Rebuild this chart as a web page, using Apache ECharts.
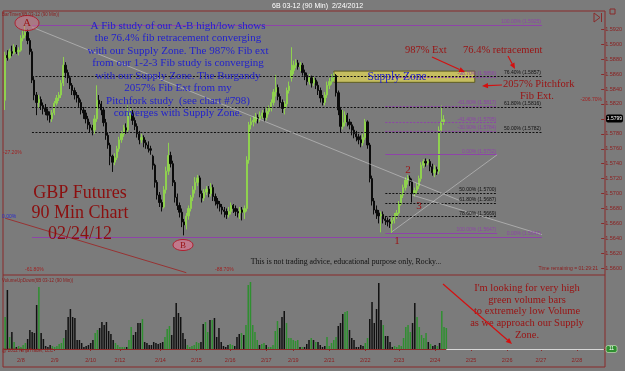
<!DOCTYPE html>
<html lang="en">

<head>
    <meta charset="UTF-8">
    <title>GBP Futures 90 Min</title>
    <style>
        html,
        body {
            margin: 0;
            padding: 0;
            background: #7b7b7b;
        }

        .box {
            width: 625px;
            height: 371px;
        }
    </style>
</head>

<body>
    <div class="box"></div>

    <script src="https://cdn.jsdelivr.net/npm/echarts@6.0.0/dist/echarts.min.js"></script>
    <script>
        // 90 min bars, 6B 03-12
        let opens = [1.5825, 1.5885, 1.5882, 1.5890, 1.5888, 1.5896, 1.5890, 1.5892, 1.5908, 1.5912,
            1.5916, 1.5905, 1.5890, 1.5852, 1.5832, 1.5822, 1.5826, 1.5818, 1.5814, 1.5810,
            1.5805, 1.5800, 1.5808, 1.5821, 1.5828, 1.5832, 1.5848, 1.5872, 1.5862, 1.5855,
            1.5845, 1.5838, 1.5832, 1.5828, 1.5822, 1.5812, 1.5808, 1.5800, 1.5792, 1.5788,
            1.5785, 1.5800, 1.5825, 1.5820, 1.5812, 1.5795, 1.5778, 1.5765, 1.5750, 1.5742,
            1.5748, 1.5760, 1.5772, 1.5780, 1.5788, 1.5785, 1.5805, 1.5808, 1.5798, 1.5790,
            1.5780, 1.5772, 1.5775, 1.5768, 1.5765, 1.5760, 1.5750, 1.5738, 1.5715, 1.5698,
            1.5688, 1.5682, 1.5705, 1.5730, 1.5751, 1.5740, 1.5715, 1.5695, 1.5684, 1.5675,
            1.5662, 1.5658, 1.5670, 1.5680, 1.5695, 1.5705, 1.5715, 1.5721, 1.5700, 1.5694,
            1.5702, 1.5706, 1.5700, 1.5708, 1.5696, 1.5690, 1.5686, 1.5682, 1.5678, 1.5676,
            1.5672, 1.5676, 1.5684, 1.5680, 1.5676, 1.5674, 1.5678, 1.5675, 1.5680, 1.5745,
            1.5792, 1.5796, 1.5798, 1.5802, 1.5800, 1.5804, 1.5808, 1.5802, 1.5810, 1.5814,
            1.5822, 1.5836, 1.5842, 1.5830, 1.5822, 1.5814, 1.5820, 1.5838, 1.5855, 1.5865,
            1.5872, 1.5875, 1.5870, 1.5872, 1.5862, 1.5858, 1.5850, 1.5855, 1.5848, 1.5852,
            1.5845, 1.5838, 1.5828, 1.5822, 1.5832, 1.5845, 1.5850, 1.5855, 1.5858, 1.5835,
            1.5812, 1.5790, 1.5795, 1.5805, 1.5796, 1.5792, 1.5785, 1.5780, 1.5776, 1.5772,
            1.5768, 1.5775, 1.5796, 1.5765, 1.5720, 1.5690, 1.5678, 1.5674, 1.5670, 1.5672,
            1.5666, 1.5664, 1.5662, 1.5660, 1.5664, 1.5670, 1.5674, 1.5686, 1.5698, 1.5708,
            1.5718, 1.5721, 1.5716, 1.5700, 1.5704, 1.5710, 1.5720, 1.5738, 1.5743, 1.5741,
            1.5743, 1.5736, 1.5728, 1.5732, 1.5730, 1.5785, 1.5796]
        let closes = [1.5885, 1.5882, 1.5890, 1.5888, 1.5896, 1.5890, 1.5892, 1.5908, 1.5912, 1.5916,
            1.5905, 1.5890, 1.5852, 1.5832, 1.5822, 1.5826, 1.5818, 1.5814, 1.5810, 1.5805,
            1.5800, 1.5808, 1.5821, 1.5828, 1.5832, 1.5848, 1.5872, 1.5862, 1.5855, 1.5845,
            1.5838, 1.5832, 1.5828, 1.5822, 1.5812, 1.5808, 1.5800, 1.5792, 1.5788, 1.5785,
            1.5800, 1.5825, 1.5820, 1.5812, 1.5795, 1.5778, 1.5765, 1.5750, 1.5742, 1.5748,
            1.5760, 1.5772, 1.5780, 1.5788, 1.5785, 1.5805, 1.5808, 1.5798, 1.5790, 1.5780,
            1.5772, 1.5775, 1.5768, 1.5765, 1.5760, 1.5758, 1.5738, 1.5715, 1.5698, 1.5688,
            1.5682, 1.5705, 1.5730, 1.5751, 1.5740, 1.5715, 1.5695, 1.5684, 1.5675, 1.5662,
            1.5658, 1.5670, 1.5680, 1.5695, 1.5705, 1.5715, 1.5721, 1.5700, 1.5694, 1.5702,
            1.5706, 1.5700, 1.5708, 1.5696, 1.5690, 1.5686, 1.5682, 1.5678, 1.5676, 1.5672,
            1.5676, 1.5684, 1.5680, 1.5676, 1.5674, 1.5678, 1.5675, 1.5680, 1.5745, 1.5792,
            1.5796, 1.5798, 1.5802, 1.5800, 1.5804, 1.5808, 1.5802, 1.5810, 1.5814, 1.5822,
            1.5836, 1.5842, 1.5830, 1.5822, 1.5814, 1.5820, 1.5838, 1.5844, 1.5865, 1.5872,
            1.5875, 1.5870, 1.5872, 1.5862, 1.5858, 1.5850, 1.5855, 1.5848, 1.5852, 1.5845,
            1.5838, 1.5828, 1.5822, 1.5832, 1.5845, 1.5850, 1.5855, 1.5858, 1.5835, 1.5812,
            1.5790, 1.5795, 1.5805, 1.5796, 1.5792, 1.5785, 1.5780, 1.5776, 1.5772, 1.5768,
            1.5775, 1.5796, 1.5765, 1.5720, 1.5690, 1.5678, 1.5674, 1.5670, 1.5672, 1.5666,
            1.5664, 1.5662, 1.5660, 1.5664, 1.5670, 1.5674, 1.5686, 1.5698, 1.5708, 1.5718,
            1.5721, 1.5716, 1.5700, 1.5704, 1.5710, 1.5720, 1.5738, 1.5743, 1.5741, 1.5743,
            1.5736, 1.5728, 1.5732, 1.5730, 1.5785, 1.5796, 1.5799]
        let lows = [1.5812, 1.5878, 1.5880, 1.5884, 1.5886, 1.5887, 1.5885, 1.5890, 1.5904, 1.5908,
            1.5900, 1.5886, 1.5848, 1.5825, 1.5805, 1.5815, 1.5812, 1.5806, 1.5805, 1.5798,
            1.5795, 1.5796, 1.5805, 1.5818, 1.5824, 1.5828, 1.5844, 1.5855, 1.5848, 1.5840,
            1.5832, 1.5826, 1.5822, 1.5816, 1.5806, 1.5800, 1.5794, 1.5786, 1.5782, 1.5778,
            1.5780, 1.5796, 1.5814, 1.5805, 1.5790, 1.5772, 1.5760, 1.5738, 1.5729, 1.5738,
            1.5745, 1.5756, 1.5768, 1.5776, 1.5780, 1.5782, 1.5800, 1.5792, 1.5785, 1.5775,
            1.5766, 1.5768, 1.5762, 1.5760, 1.5755, 1.5752, 1.5732, 1.5708, 1.5692, 1.5682,
            1.5676, 1.5680, 1.5700, 1.5725, 1.5735, 1.5710, 1.5688, 1.5678, 1.5668, 1.5655,
            1.5644, 1.5652, 1.5665, 1.5676, 1.5690, 1.5700, 1.5710, 1.5695, 1.5688, 1.5690,
            1.5698, 1.5695, 1.5696, 1.5690, 1.5684, 1.5680, 1.5676, 1.5672, 1.5668, 1.5666,
            1.5668, 1.5672, 1.5674, 1.5670, 1.5668, 1.5666, 1.5664, 1.5666, 1.5676, 1.5740,
            1.5786, 1.5790, 1.5794, 1.5794, 1.5796, 1.5800, 1.5796, 1.5798, 1.5806, 1.5810,
            1.5818, 1.5830, 1.5825, 1.5815, 1.5808, 1.5806, 1.5816, 1.5834, 1.5850, 1.5860,
            1.5868, 1.5866, 1.5864, 1.5858, 1.5852, 1.5845, 1.5846, 1.5842, 1.5844, 1.5840,
            1.5832, 1.5822, 1.5818, 1.5818, 1.5828, 1.5840, 1.5846, 1.5850, 1.5830, 1.5805,
            1.5782, 1.5786, 1.5790, 1.5790, 1.5786, 1.5778, 1.5774, 1.5770, 1.5766, 1.5762,
            1.5764, 1.5772, 1.5760, 1.5715, 1.5684, 1.5672, 1.5666, 1.5660, 1.5648, 1.5660,
            1.5658, 1.5656, 1.5654, 1.5647, 1.5660, 1.5666, 1.5672, 1.5684, 1.5694, 1.5704,
            1.5712, 1.5710, 1.5688, 1.5696, 1.5700, 1.5706, 1.5716, 1.5734, 1.5736, 1.5738,
            1.5730, 1.5724, 1.5722, 1.5725, 1.5726, 1.5782, 1.5792]
        let highs = [1.5890, 1.5892, 1.5894, 1.5898, 1.5900, 1.5899, 1.5896, 1.5912, 1.5918, 1.5926,
            1.5920, 1.5908, 1.5894, 1.5856, 1.5836, 1.5832, 1.5830, 1.5822, 1.5820, 1.5814,
            1.5810, 1.5812, 1.5824, 1.5832, 1.5836, 1.5852, 1.5883, 1.5876, 1.5866, 1.5858,
            1.5848, 1.5842, 1.5836, 1.5832, 1.5826, 1.5816, 1.5812, 1.5804, 1.5796, 1.5792,
            1.5805, 1.5845, 1.5832, 1.5824, 1.5816, 1.5800, 1.5782, 1.5768, 1.5752, 1.5754,
            1.5764, 1.5776, 1.5784, 1.5792, 1.5794, 1.5818, 1.5814, 1.5812, 1.5802, 1.5794,
            1.5784, 1.5780, 1.5778, 1.5772, 1.5770, 1.5764, 1.5752, 1.5740, 1.5718, 1.5702,
            1.5692, 1.5710, 1.5736, 1.5768, 1.5756, 1.5744, 1.5718, 1.5700, 1.5688, 1.5680,
            1.5666, 1.5674, 1.5684, 1.5698, 1.5710, 1.5722, 1.5725, 1.5724, 1.5704, 1.5706,
            1.5710, 1.5710, 1.5714, 1.5712, 1.5700, 1.5694, 1.5690, 1.5686, 1.5682, 1.5680,
            1.5682, 1.5688, 1.5686, 1.5684, 1.5680, 1.5682, 1.5682, 1.5684, 1.5750, 1.5796,
            1.5802, 1.5804, 1.5808, 1.5806, 1.5810, 1.5812, 1.5814, 1.5816, 1.5818, 1.5826,
            1.5840, 1.5859, 1.5846, 1.5834, 1.5826, 1.5824, 1.5842, 1.5850, 1.5896, 1.5878,
            1.5880, 1.5879, 1.5876, 1.5875, 1.5866, 1.5862, 1.5860, 1.5858, 1.5856, 1.5855,
            1.5850, 1.5842, 1.5832, 1.5836, 1.5850, 1.5855, 1.5860, 1.5862, 1.5860, 1.5838,
            1.5816, 1.5812, 1.5810, 1.5808, 1.5800, 1.5796, 1.5790, 1.5784, 1.5780, 1.5778,
            1.5780, 1.5800, 1.5798, 1.5768, 1.5724, 1.5694, 1.5684, 1.5678, 1.5676, 1.5676,
            1.5670, 1.5668, 1.5666, 1.5668, 1.5674, 1.5678, 1.5690, 1.5702, 1.5712, 1.5722,
            1.5725, 1.5724, 1.5720, 1.5708, 1.5714, 1.5724, 1.5742, 1.5746, 1.5747, 1.5746,
            1.5746, 1.5740, 1.5738, 1.5736, 1.5790, 1.5818, 1.5805]
        let volumes = [3200, 5900, 1200, 1700, 700, 200, 300, 200, 400, 600,
            1000, 1900, 1700, 1600, 4400, 6200, 1600, 1000, 300, 200,
            400, 300, 200, 300, 500, 600, 1100, 1900, 3200, 4000,
            3200, 3100, 900, 900, 600, 200, 300, 400, 600, 900,
            1600, 1900, 2100, 2700, 2400, 2700, 1800, 1500, 900, 600,
            400, 200, 200, 200, 200, 900, 2200, 1400, 1700, 2600,
            2600, 3000, 700, 600, 400, 400, 700, 600, 500, 600,
            700, 1200, 2000, 2300, 1400, 3200, 4600, 3600, 3200, 1600,
            1000, 400, 200, 300, 400, 700, 600, 700, 2500, 2700,
            1700, 2900, 2900, 3100, 1200, 2100, 700, 300, 200, 400,
            500, 400, 300, 1200, 1500, 1600, 1400, 2400, 6400, 6700,
            2400, 1700, 900, 400, 500, 600, 400, 200, 200, 400,
            1800, 2800, 2100, 3200, 3800, 2600, 1100, 1100, 900, 800,
            900, 200, 200, 200, 500, 900, 1100, 900, 700, 700,
            400, 200, 300, 1200, 300, 600, 900, 1200, 2300, 2600,
            3500, 3700, 3800, 1900, 1100, 900, 200, 200, 400, 300,
            600, 1100, 3000, 4700, 2600, 4000, 6600, 2900, 2400, 1300,
            1300, 700, 200, 300, 200, 400, 300, 1100, 2200, 2400,
            1700, 2600, 4600, 3200, 2200, 1400, 1100, 1600, 700, 500,
            300, 400, 300, 600, 3800, 2200, 2100]

        let priceTicks = [1.5600, 1.5620, 1.5640, 1.5660, 1.5680, 1.5700, 1.5720, 1.5740, 1.5760,
            1.5780, 1.5800, 1.5820, 1.5840, 1.5860, 1.5880, 1.5900, 1.5920]
        let dateIdx = [7, 22, 38, 51, 69, 85, 100, 116, 128, 144, 160, 175, 191, 207, 223, 238, 254]
        let dateLabels = ["2/8", "2/9", "2/10", "2/12", "2/14", "2/15", "2/16", "2/17", "2/19",
            "2/21", "2/22", "2/23", "2/24", "2/25", "2/26", "2/27", "2/28"]

        // fib study A-B
        let abLevels = [1.5925, 1.5857, 1.5816, 1.5782, 1.5642]
        let abLabels = ["100.00% (1.5925)", "76.40% (1.5857)", "61.80% (1.5816)", "50.00% (1.5782)", "0.00% (1.5642)"]
        // fib study 1-2-3
        let f123Levels = [1.5856, 1.5817, 1.5795, 1.5784, 1.5752, 1.5700, 1.5687, 1.5669, 1.5647]
        let f123Labels = ["-98.70% (1.5856)", "-61.80% (1.5817)", "-41.40% (1.5795)", "-30.90% (1.5784)",
            "0.00% (1.5752)", "50.00% (1.5700)", "61.80% (1.5687)", "78.60% (1.5669)", "100.00% (1.5647)"]
        let supplyZone = [1.5864, 1.5849]
        let lastPrice = "1.5799"
        let lastVolume = "11"

        const slots = 267
        const frame = "#8a2a2a"
        const axisRed = "#8c1d1d"
        const purple = "#8e44a8"
        const darkRed = "#9a1212"
        const serif = '"Liberation Serif", "DejaVu Serif", serif'
        const sans = '"Liberation Sans", Arial, sans-serif'

        let categories = Array.from({ length: slots }, (_, i) => i)
        let candles = opens.map((o, i) => [o, closes[i], lows[i], highs[i]])

        function fibLine(p, text, from, to, color, type) {
            return [{
                coord: [from, p],
                lineStyle: { color: color, type: type, width: 1 },
                label: { show: true, formatter: text, position: "insideEndTop", color: color, fontSize: 5, distance: 1, fontFamily: sans }
            }, { coord: [to, p] }]
        }

        function trend(x1, p1, x2, p2, color, type, opacity) {
            return [{
                coord: [x1, p1],
                lineStyle: { color: color, type: type, width: 1, opacity: opacity },
                label: { show: false }
            }, { coord: [x2, p2] }]
        }

        let marks = []
        abLevels.forEach((p, k) => {
            let edge = k == 0 || k == abLevels.length - 1
            marks.push(fibLine(p, abLabels[k], 12, 240, edge ? purple : "#111", edge ? "solid" : [2, 1.5]))
        })
        f123Levels.forEach((p, k) => {
            let t = f123Labels[k]
            let black = t.startsWith("50") || t.startsWith("61") || t.startsWith("78")
            let solid = t.startsWith("0.") || t.startsWith("100")
            marks.push(fibLine(p, t, 170, 220, black ? "#111" : purple, solid ? "solid" : [2, 1.5]))
        })
        // pitchfork / study lines
        marks.push(trend(98, 1.59445, 266, 1.5796, "#a01818", [4, 2], 1))
        marks.push(trend(0, 1.5667, 81, 1.5594, "#9a2a2a", "solid", 0.9))
        marks.push(trend(12, 1.5923, 203, 1.5691, "#cfcfcf", "solid", 0.55))
        marks.push(trend(173, 1.5649, 220, 1.5752, "#cfcfcf", "solid", 0.55))
        marks.push(trend(182, 1.5698, 240, 1.5645, "#cfcfcf", "solid", 0.55))

        function text(x, y, s, size, color, align, font) {
            return {
                type: "text", x: x, y: y, z: 100, silent: true,
                style: { text: s, font: size + "px " + (font || serif), fill: color, textAlign: align || "left", textVerticalAlign: "middle" }
            }
        }

        function line(x1, y1, x2, y2, color, w) {
            return { type: "line", z: 50, silent: true, shape: { x1: x1, y1: y1, x2: x2, y2: y2 }, style: { stroke: color, lineWidth: w || 1 } }
        }

        function arrow(x1, y1, x2, y2, color) {
            let a = Math.atan2(y2 - y1, x2 - x1)
            let bx = x2 - 6 * Math.cos(a), by = y2 - 6 * Math.sin(a)
            let px = -Math.sin(a) * 2.6, py = Math.cos(a) * 2.6
            return [
                { type: "line", z: 100, silent: true, shape: { x1: x1, y1: y1, x2: bx, y2: by }, style: { stroke: color, lineWidth: 1.2 } },
                { type: "polygon", z: 100, silent: true, shape: { points: [[x2, y2], [bx + px, by + py], [bx - px, by - py]] }, style: { fill: color } }
            ]
        }

        let blueLines = ["A Fib study of our A-B high/low shows", "the 76.4% fib retracement converging",
            "with our Supply Zone. The 987% Fib ext", "from our 1-2-3 Fib study is converging",
            "with our Supply Zone. The Burgandy", "2057% Fib Ext from my",
            "Pitchfork study  (see chart #798)", "converges with Supply Zone."]
        let noteLines = ["I'm looking for very high", "green volume bars", "to extremely low Volume",
            "as we approach our Supply", "Zone."]

        let graphics = [
            // frame
            line(3, 11, 605, 11, frame), line(3, 11, 3, 367, frame), line(605, 11, 605, 367, frame),
            line(3, 275, 605, 275, frame), line(3, 367, 605, 367, frame),
            text(272, 6, "6B 03-12 (90 Min)  2/24/2012", 7, "#ffffff", "left", sans),
            text(2, 15, "BarTimer(6B 03-12 (90 Min))", 4.5, axisRed, "left", sans),
            text(2, 281, "VolumeUpDown(6B 03-12 (90 Min))", 4.5, axisRed, "left", sans),
            text(2, 351, "@ 2012 NinjaTrader, LLC", 4.5, axisRed, "left", sans),
            text(598, 269, "Time remaining = 01:29:21", 5, axisRed, "right", sans),
            text(3, 153, "-27.20%", 5, "#a02020", "left", sans),
            text(2, 217, "0.00%", 5, "#2a2acc", "left", sans),
            text(25, 270, "-61.80%", 5, "#a02020", "left", sans),
            text(215, 270, "-88.70%", 5, "#a02020", "left", sans),
            text(602, 100, "-206.70%", 5, "#a02020", "right", sans),
            // icons top right
            { type: "polygon", z: 60, silent: true, shape: { points: [[594, 13], [600, 17.5], [594, 22]] }, style: { fill: "none", stroke: frame, lineWidth: 1 } },
            line(601.5, 13, 601.5, 22, frame),
            { type: "rect", z: 60, silent: true, shape: { x: 610, y: 9, width: 5, height: 5 }, style: { fill: "none", stroke: frame, lineWidth: 1 } },
            // A / B markers
            { type: "ellipse", z: 90, silent: true, shape: { cx: 27, cy: 23, rx: 12, ry: 7.5 }, style: { fill: "rgba(205,120,140,0.55)", stroke: "#b02030", lineWidth: 1 } },
            text(27, 23, "A", 11, darkRed, "center"),
            { type: "ellipse", z: 90, silent: true, shape: { cx: 183, cy: 245, rx: 10, ry: 5.5 }, style: { fill: "rgba(215,120,145,0.75)", stroke: "#b02030", lineWidth: 1 } },
            text(183, 245.5, "B", 9, darkRed, "center"),
            // 1-2-3 labels
            text(408, 170, "2", 11, darkRed, "center"),
            text(419, 206, "3", 11, darkRed, "center"),
            text(397, 241, "1", 11, darkRed, "center"),
            text(397, 77, "Supply Zone", 11.5, "#2222cc", "center"),
            text(80, 193, "GBP Futures", 18, "#8b0f0f", "center"),
            text(80, 213.5, "90 Min Chart", 18, "#8b0f0f", "center"),
            text(80, 234, "02/24/12", 18, "#8b0f0f", "center"),
            text(346, 261.5, "This is not trading advice, educational purpose only, Rocky...", 7.8, "#111111", "center"),
            text(405, 50, "987% Ext", 10.5, darkRed, "left"),
            text(463, 50, "76.4% retracement", 10.5, darkRed, "left"),
            text(503, 84, "2057% Pitchfork", 10.5, darkRed, "left"),
            text(520, 96, "Fib Ext.", 10.5, darkRed, "left"),
            // last price / volume tags
            { type: "rect", z: 95, silent: true, shape: { x: 606, y: 114.5, width: 17, height: 8, r: 2 }, style: { fill: "#000000" } },
            text(614.5, 118.5, lastPrice, 5, "#ffffff", "center", sans),
            { type: "rect", z: 95, silent: true, shape: { x: 606, y: 345.5, width: 11, height: 7, r: 2 }, style: { fill: "#2f8f30", stroke: "#d8f0c8", lineWidth: 0.6 } },
            text(611.5, 349, lastVolume, 5, "#ffffff", "center", sans)
        ]
        blueLines.forEach((s, k) => graphics.push(text(178, 26 + k * 12.5, s, 11, "#2222cc", "center")))
        noteLines.forEach((s, k) => graphics.push(text(527, 288 + k * 11.75, s, 10.5, darkRed, "center")))
        graphics = graphics.concat(arrow(432, 57, 465, 72, "#d41010"), arrow(508, 56, 515, 69, "#d41010"),
            arrow(502, 85, 482, 86, "#d41010"), arrow(443, 284, 512, 344, "#d41010"))

        let myChart = echarts.init(document.querySelector(".box"))
        let option = {
            animation: false,
            backgroundColor: "#7b7b7b",
            grid: [
                { left: 4, right: 20, top: 12, height: 263 },
                { left: 4, right: 20, top: 277, height: 72 }
            ],
            xAxis: [{
                type: "category", gridIndex: 0, data: categories,
                axisLine: { show: false }, axisTick: { show: false }, axisLabel: { show: false }, splitLine: { show: false }
            }, {
                type: "category", gridIndex: 1, data: categories, offset: 5,
                axisLine: { show: true, lineStyle: { color: frame } },
                axisTick: { show: true, alignWithLabel: true, length: 2, interval: (i) => dateIdx.includes(i), lineStyle: { color: frame } },
                axisLabel: {
                    interval: (i) => dateIdx.includes(i),
                    formatter: (v, i) => dateLabels[dateIdx.indexOf(i)] || "",
                    fontSize: 5.5, color: axisRed, margin: 3, fontFamily: sans
                },
                splitLine: { show: false }
            }],
            yAxis: [{
                type: "value", gridIndex: 0, position: "right", min: 1.55909, max: 1.59432, scale: true,
                axisLine: { show: false },
                axisTick: { show: true, length: 3, customValues: priceTicks, lineStyle: { color: frame } },
                axisLabel: { customValues: priceTicks, formatter: (v) => v.toFixed(4), fontSize: 5.5, color: axisRed, margin: 4, fontFamily: sans },
                splitLine: { show: false }
            }, {
                type: "value", gridIndex: 1, min: 0, max: 7200, show: false
            }],
            series: [{
                type: "candlestick",
                xAxisIndex: 0, yAxisIndex: 0,
                data: candles,
                barWidth: 1.8,
                itemStyle: {
                    color: "#8fd14f", color0: "#0b0b0b",
                    borderColor: "#8fd14f", borderColor0: "#0b0b0b", borderWidth: 1
                },
                markLine: { silent: true, symbol: ["none", "none"], animation: false, data: marks },
                markArea: {
                    silent: true,
                    itemStyle: { color: "rgba(212,202,92,0.85)", borderColor: "#5e5c22", borderWidth: 1 },
                    data: [[{ coord: [147, supplyZone[0]] }, { coord: [210, supplyZone[1]] }]]
                }
            }, {
                type: "bar",
                xAxisIndex: 1, yAxisIndex: 1,
                data: volumes,
                barWidth: 1.5,
                itemStyle: {
                    color: (p) => closes[p.dataIndex] >= opens[p.dataIndex] ? "#2f8f30" : "#101010"
                },
                markLine: {
                    silent: true, symbol: ["none", "none"], animation: false,
                    data: [[{ coord: [196, 0], lineStyle: { color: "#d8d8d8", type: "solid", width: 1 }, label: { show: false } }, { coord: [266, 0] }]]
                }
            }],
            graphic: graphics
        }
        myChart.setOption(option);
    </script>
</body>

</html>
